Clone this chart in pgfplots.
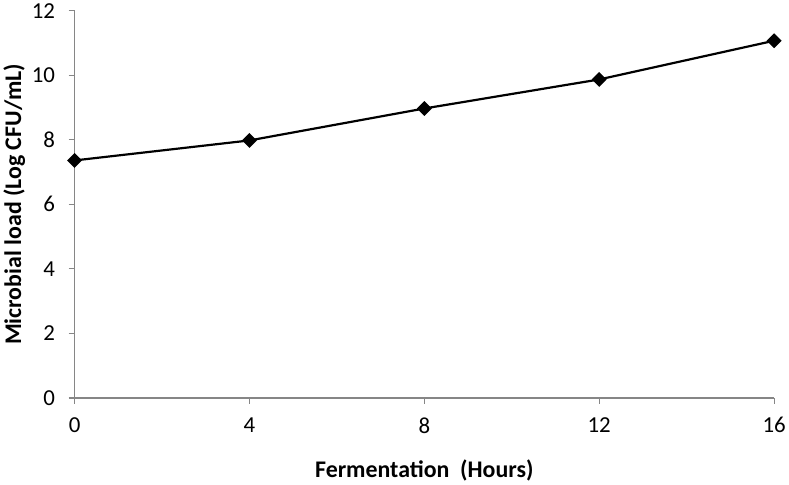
\documentclass[border=0pt]{standalone}
\usepackage{pgfplots}
\pgfplotsset{compat=1.18}
\usepackage{fontspec}
\setmainfont{Carlito}

\definecolor{axisgray}{HTML}{868686}

\begin{document}
\begin{tikzpicture}
  \begin{axis}[
    scale only axis,
    width=701bp,
    height=388bp,
    xmin=0, xmax=16,
    ymin=0, ymax=12,
    xtick={0,4,8,12,16},
    ytick={0,2,...,12},
    axis x line*=bottom,
    axis y line*=left,
    axis line style={axisgray, line width=1.2pt, -},
    tick style={axisgray, line width=1.2pt},
    tick align=outside,
    major tick length=6bp,
    tick label style={font=\fontsize{23}{27}\selectfont, black},
    xticklabel style={yshift=-10bp},
    yticklabel style={xshift=-10bp},
    /pgf/number format/assume math mode=true,
    xlabel={\textbf{Fermentation\ \ (Hours)}},
    ylabel={\textbf{Microbial load (Log CFU/mL)}},
    label style={font=\fontsize{24}{28}\selectfont},
    xlabel style={yshift=-20bp},
    ylabel style={yshift=0bp},
    clip=false,
  ]
    \addplot[black, line width=2.2pt, mark=square*, mark size=4.2bp,
      mark options={solid, fill=black, rotate=45}]
      coordinates {(0,7.36) (4,7.98) (8,8.97) (12,9.87) (16,11.07)};
  \end{axis}
\end{tikzpicture}
\end{document}
